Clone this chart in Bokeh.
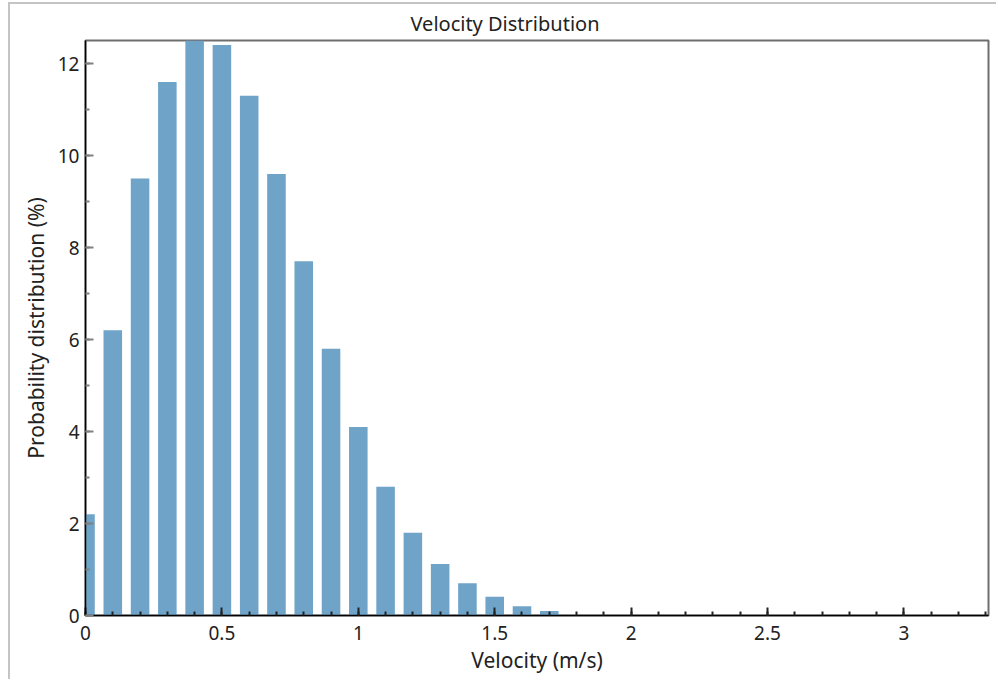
from bokeh.plotting import figure
from bokeh.models import SingleIntervalTicker, NumeralTickFormatter, Range1d
from bokeh.embed import file_html
from bokeh.resources import INLINE

# Data
velocity = [0.0, 0.1, 0.2, 0.3, 0.4, 0.5, 0.6, 0.7, 0.8, 0.9,
            1.0, 1.1, 1.2, 1.3, 1.4, 1.5, 1.6, 1.7]
probability = [2.2, 6.2, 9.5, 11.6, 12.7, 12.4, 11.3, 9.6, 7.7, 5.8,
               4.1, 2.8, 1.8, 1.12, 0.7, 0.41, 0.2, 0.1]

title_text = "Velocity Distribution"
x_label = "Velocity (m/s)"
y_label = "Probability distribution (%)"

FONT = "Noto Sans"

p = figure(width=988, height=677, output_backend="svg", toolbar_location=None,
           x_range=Range1d(0, 3.31), y_range=Range1d(0, 12.5),
           min_border_left=75, min_border_right=10, min_border_top=36,
           min_border_bottom=66, title=title_text)

p.styles = {"margin-left": "8px", "margin-top": "2px",
            "border-left": "2px solid #c4c4c4", "border-top": "2px solid #c4c4c4"}

p.vbar(x=velocity, top=probability, width=0.068, bottom=0,
       fill_color="#6fa4c8", line_color=None)

p.title.align = "left"
p.title.offset = 325
p.title.standoff = 7
p.title.vertical_align = "bottom"
p.title.text_font = FONT
p.title.text_font_size = "20px"
p.title.text_font_style = "normal"
p.title.text_color = "#222222"

p.xgrid.visible = False
p.ygrid.visible = False

p.outline_line_color = "#6e6e6e"
p.outline_line_width = 2

p.xaxis.ticker = SingleIntervalTicker(interval=0.5, num_minor_ticks=5)
p.yaxis.ticker = SingleIntervalTicker(interval=2, num_minor_ticks=2)
p.xaxis.formatter = NumeralTickFormatter(format="0.[0]")
p.yaxis.formatter = NumeralTickFormatter(format="0")

for ax in (p.xaxis[0], p.yaxis[0]):
    ax.axis_line_color = "#000000"
    ax.axis_line_width = 1.5
    ax.major_tick_in = 8
    ax.major_tick_out = 0
    ax.minor_tick_in = 4
    ax.minor_tick_out = 0
    ax.major_tick_line_color = "#222222"
    ax.minor_tick_line_color = "#222222"
    ax.major_tick_line_width = 2
    ax.minor_tick_line_width = 2
    ax.major_label_text_font = FONT
    ax.major_label_text_font_size = "19px"
    ax.major_label_text_color = "#222222"
    ax.axis_label_text_font = FONT
    ax.axis_label_text_font_size = "21px"
    ax.axis_label_text_font_style = "normal"
    ax.axis_label_text_color = "#222222"

p.xaxis.axis_label = x_label
p.yaxis.axis_label = y_label
p.xaxis.major_label_standoff = 10
p.xaxis.axis_label_standoff = 3
p.yaxis.major_label_standoff = 6
p.yaxis.axis_label_standoff = 5
p.yaxis.major_tick_line_color = "#808080"
p.yaxis.minor_tick_line_color = "#808080"

open("out.html", "w").write(file_html(p, INLINE))
